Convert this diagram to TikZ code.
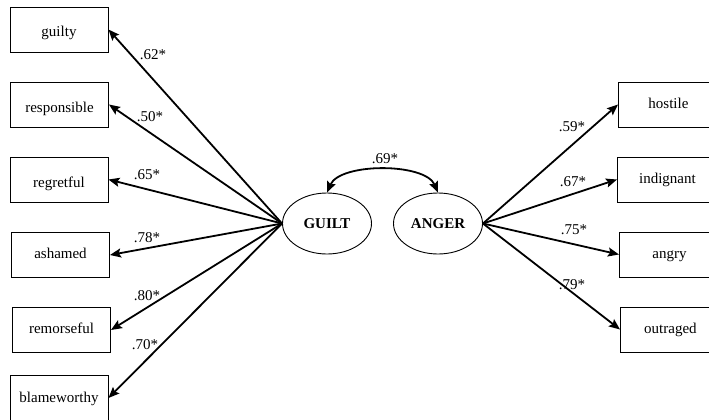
\documentclass[tikz,border=0pt]{standalone}
\usepackage{fontspec}
\setmainfont{Liberation Serif}
\usetikzlibrary{arrows.meta,shapes.geometric}
\begin{document}
\begin{tikzpicture}[x=1pt,y=-1pt,
  every node/.style={font=\fontsize{15}{17}\selectfont},
  ind/.style={draw,line width=0.9pt,rectangle,minimum width=98pt,minimum height=45pt,inner sep=0pt,text height=10pt,text depth=3pt},
  low/.style={text height=18pt},
  rind/.style={ind,minimum width=100pt,anchor=west},
  lat/.style={draw,line width=0.9pt,ellipse,minimum width=89pt,minimum height=61pt,inner sep=0pt,font=\fontsize{15}{17}\selectfont\bfseries},
  load/.style={line width=1.8pt,-{Stealth[length=11pt,width=9pt,inset=2pt]}},
  coef/.style={inner sep=0pt}]
\useasboundingbox (0,0) rectangle (709,420);
\clip (0,0) rectangle (709,420);
% latent variables
\node[lat] (g) at (327,223.5) {GUILT};
\node[lat] (a) at (438,223.5) {ANGER};
% left indicators
\node[ind,low] (i1) at (59,29.5) {guilty};
\node[ind,low] (i2) at (59.5,104.5) {responsible};
\node[ind,low] (i3) at (59,179.5) {regretful};
\node[ind] (i4) at (60.5,255) {ashamed};
\node[ind] (i5) at (61.5,330) {remorseful};
\node[ind,minimum height=46pt,text height=12pt] (i6) at (59,398) {blameworthy};
% right indicators
\node[rind] (r1) at (618,104.5) {hostile};
\node[rind] (r2) at (617,179.5) {indignant};
\node[rind] (r3) at (619,254.5) {angry};
\node[rind] (r4) at (620,329.5) {outraged};
% loadings
\foreach \t in {i1,i2,i3,i4,i5,i6} \draw[load] (g.west) -- (\t.east);
\foreach \t in {r1,r2,r3,r4} \draw[load] (a.east) -- (\t.west);
% correlation
\draw[line width=1.8pt,{Stealth[length=11pt,width=9pt,inset=2pt]}-{Stealth[length=11pt,width=9pt,inset=2pt]}]
  (g.north) .. controls +(13,-30) and +(-13,-30) .. (a.north);
% coefficients
\node[coef] (c1) at (153,55) {.62*};
\node[coef] (c2) at (150,117) {.50*};
\node[coef] (c3) at (147,175) {.65*};
\node[coef] (c4) at (147,238) {.78*};
\node[coef] (c5) at (147,296) {.80*};
\node[coef] (c6) at (145,345) {.70*};
\node[coef] (d1) at (572,127) {.59*};
\node[coef] (d2) at (573,182) {.67*};
\node[coef] (d3) at (574,230) {.75*};
\node[coef] (d4) at (572,285) {.79*};
\node[coef] (e1) at (385,159) {.69*};
\end{tikzpicture}
\end{document}
